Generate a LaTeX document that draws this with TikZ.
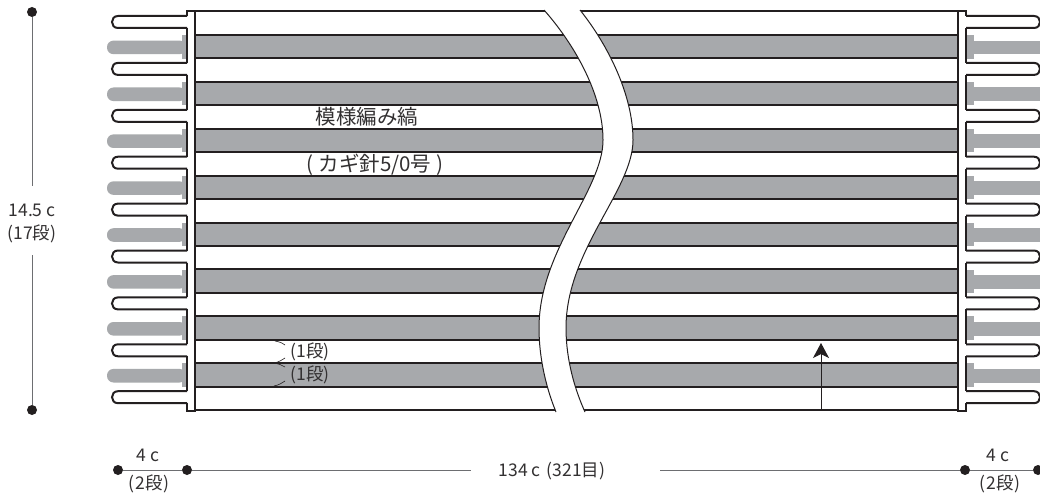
\documentclass[tikz,border=0pt]{standalone}
\usepackage{fontspec}
\setmainfont{Noto Sans CJK JP}
\usetikzlibrary{arrows.meta}
\definecolor{bargray}{HTML}{A7A9AC}
\definecolor{inkc}{HTML}{231F20}
\definecolor{textc}{HTML}{333132}
\definecolor{dimc}{HTML}{6D6E71}
\tikzset{
  x=1pt,y=-1pt,
  outline/.style={draw=inkc,line width=2pt},
  thinedge/.style={draw=inkc,line width=1pt},
  dimline/.style={draw=dimc,line width=1pt},
  dimdot/.style={circle,fill=inkc,inner sep=0pt,minimum size=10pt},
  lab/.style={inner sep=0pt,text=textc,font=\fontsize{17.5}{23}\selectfont,align=center},
  lablarge/.style={inner sep=0pt,text=textc,font=\fontsize{20.5}{22}\selectfont},
  tick/.style={draw=inkc,line width=0.6pt},
}
\begin{document}
\begin{tikzpicture}
\useasboundingbox (0,0) rectangle (1040,494);
\fill[white] (0,0) rectangle (1040,494);
% gray bars and tabs
\foreach \k in {0,...,7}{
  \pgfmathsetmacro{\ya}{35+46.9*\k}
  \pgfmathsetmacro{\yb}{\ya+23.6}
  \pgfmathsetmacro{\ta}{\ya+5.6}
  \pgfmathsetmacro{\tb}{\ya+19.2}
  \fill[bargray] (195,\ya) rectangle (958,\yb);
  \fill[bargray] (182,\ya) rectangle (187,\yb);
  \fill[bargray,rounded corners=6.5pt] (107,\ta) rectangle (186,\tb);
  \fill[bargray] (966,\ya) rectangle (974,\yb);
  \fill[bargray] (970,\ta) rectangle (1040,\tb);
}
% horizontal lines
\foreach \k in {0,...,17}{
  \pgfmathsetmacro{\yy}{11.5+23.45*\k}
  \draw[outline] (195,\yy) -- (958,\yy);
}
% frames
\draw[outline] (195,10.5) -- (195,412);
\draw[outline] (958,10.5) -- (958,412);
\draw[outline] (195,11.5) -- (187,11.5) -- (187,16);
\draw[outline] (195,411) -- (187,411) -- (187,403);
\draw[outline] (958,11.5) -- (966,11.5) -- (966,16);
\draw[outline] (958,411) -- (966,411) -- (966,403);
% loops
\foreach \k in {0,...,8}{
  \pgfmathsetmacro{\ya}{16+46.9*\k}
  \pgfmathsetmacro{\yb}{\ya+12}
  \draw[outline] (187,\ya) -- (118,\ya) .. controls (110,\ya) and (110,\yb) .. (118,\yb) -- (187,\yb);
  \draw[outline] (966,\ya) -- (1034,\ya) .. controls (1042,\ya) and (1042,\yb) .. (1034,\yb) -- (966,\yb);
}
\foreach \k in {0,...,7}{
  \pgfmathsetmacro{\ya}{28+46.9*\k}
  \pgfmathsetmacro{\yb}{\ya+34.9}
  \draw[outline] (187,\ya) -- (187,\yb);
  \draw[outline] (966,\ya) -- (966,\yb);
}
% break
\fill[white] (544,10) .. controls (575,45) and (603,95) .. (603,140)
  .. controls (603,190) and (539,250) .. (539,328)
  .. controls (539,360) and (547,390) .. (556,412)
  -- (585,412) .. controls (575,390) and (566,360) .. (566,328)
  .. controls (566,250) and (633,190) .. (633,140)
  .. controls (633,95) and (608,45) .. (580,10) -- cycle;
\draw[thinedge] (544,10) .. controls (575,45) and (603,95) .. (603,140)
  .. controls (603,190) and (539,250) .. (539,328)
  .. controls (539,360) and (547,390) .. (556,412);
\draw[thinedge] (580,10) .. controls (608,45) and (633,95) .. (633,140)
  .. controls (633,190) and (566,250) .. (566,328)
  .. controls (566,360) and (575,390) .. (585,412);
% labels
\node[lablarge] (pat) at (367,117) {模様編み縞};
\node[lablarge] (hook) at (375,165) {(\kern5pt カギ針5/0号\kern5pt)};
\node[lab] (r1) at (310,352) {(1段)};
\node[lab] (r2) at (310,375) {(1段)};
\draw[tick] (275,341) .. controls (280,342) and (283,343) .. (285,345);
\draw[tick] (285,358) .. controls (282,360) and (279,362) .. (274,363);
\draw[tick] (274,363) .. controls (279,364) and (282,365) .. (285,367);
\draw[tick] (285,381) .. controls (282,383) and (279,385) .. (274,386);
% arrow
\coordinate (ab) at (821,410);
\coordinate (at) at (821,343);
\draw[draw=inkc,line width=1pt,-{Stealth[length=15pt,width=16pt,inset=4pt]}] (ab) -- (at);
% vertical dimension
\node[dimdot] (vt) at (32,12) {};
\node[dimdot] (vb) at (32,410) {};
\node[lab] (vl) at (32,223) {14.5 c\\(17段)};
\draw[dimline] (vt) -- (32,186);
\draw[dimline] (32,255) -- (vb);
% horizontal dimension
\node[dimdot] (h1) at (118,470) {};
\node[dimdot] (h2) at (187,470) {};
\node[dimdot] (h3) at (965,470) {};
\node[dimdot] (h4) at (1038,470) {};
\draw[dimline] (h1) -- (h2);
\draw[dimline] (h3) -- (h4);
\node[lab] (hm) at (552,471) {134 c\kern2pt{} (321目)};
\draw[dimline] (h2) -- (471,470);
\draw[dimline] (660,470) -- (h3);
\node[lab] (l4) at (148,455) {4 c};
\node[lab] (l2) at (149,484) {(\kern1pt 2段\kern1pt)};
\node[lab] (r4) at (998,455) {4 c};
\node[lab] (r2b) at (1000,484) {(\kern1pt 2段\kern1pt)};
\end{tikzpicture}
\end{document}
